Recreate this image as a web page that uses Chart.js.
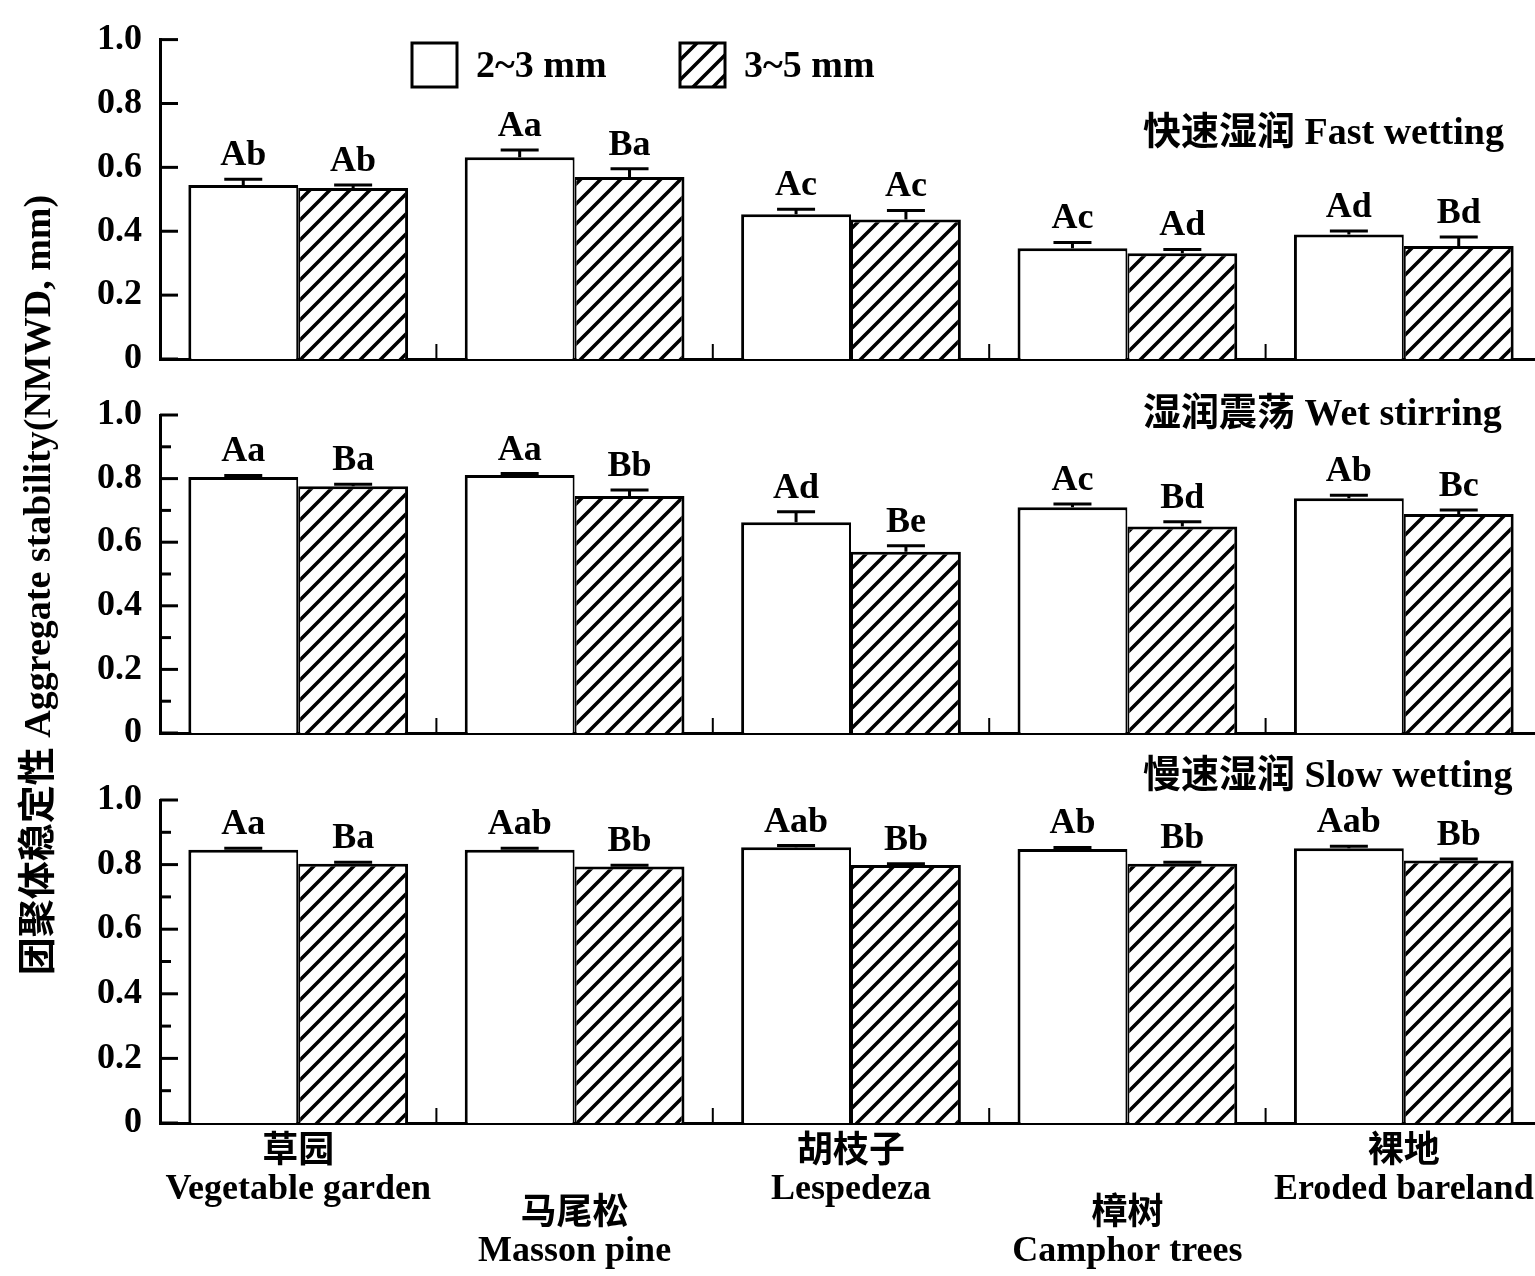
<!DOCTYPE html>
<html>
<head>
<meta charset="utf-8">
<script src="https://cdn.jsdelivr.net/npm/chart.js@4.4.1/dist/chart.umd.min.js"></script>
<style>
  body { margin: 0; background: #fff; overflow: hidden; }
  #wrap { position: relative; width: 1535px; height: 1276px; overflow: hidden; background: #fff; }
  #wrap canvas { position: absolute; left: 0; top: 0; }
</style>
</head>
<body>
<div id="wrap">
  <canvas id="fast" width="1542" height="1276"></canvas>
  <canvas id="stir" width="1542" height="1276"></canvas>
  <canvas id="slow" width="1542" height="1276"></canvas>
</div>
<script>
const categories = ['草园', '马尾松', '胡枝子', '樟树', '裸地']
const categoriesEn = ['Vegetable garden', 'Masson pine', 'Lespedeza', 'Camphor trees', 'Eroded bareland']
const sizeClasses = ['2~3 mm', '3~5 mm']
const panelTitles = ['快速湿润 Fast wetting', '湿润震荡 Wet stirring', '慢速湿润 Slow wetting']
const yTitle = '团聚体稳定性 Aggregate stability(NMWD, mm)'

// 快速湿润 Fast wetting
const fastSmall = [0.545, 0.632, 0.453, 0.347, 0.390]
const fastSmallErr = [0.018, 0.022, 0.016, 0.018, 0.011]
const fastSmallSig = ['Ab', 'Aa', 'Ac', 'Ac', 'Ad']
const fastLarge = [0.535, 0.570, 0.437, 0.331, 0.354]
const fastLargeErr = [0.010, 0.026, 0.028, 0.012, 0.028]
const fastLargeSig = ['Ab', 'Ba', 'Ac', 'Ad', 'Bd']

// 湿润震荡 Wet stirring
const stirSmall = [0.805, 0.811, 0.663, 0.710, 0.738]
const stirSmallErr = [0.005, 0.005, 0.033, 0.010, 0.010]
const stirSmallSig = ['Aa', 'Aa', 'Ad', 'Ac', 'Ab']
const stirLarge = [0.776, 0.745, 0.570, 0.649, 0.689]
const stirLargeErr = [0.006, 0.019, 0.019, 0.015, 0.012]
const stirLargeSig = ['Ba', 'Bb', 'Be', 'Bd', 'Bc']

// 慢速湿润 Slow wetting
const slowSmall = [0.846, 0.846, 0.854, 0.848, 0.851]
const slowSmallErr = [0.005, 0.005, 0.005, 0.005, 0.006]
const slowSmallSig = ['Aa', 'Aab', 'Aab', 'Ab', 'Aab']
const slowLarge = [0.803, 0.794, 0.799, 0.803, 0.813]
const slowLargeErr = [0.004, 0.004, 0.004, 0.004, 0.004]
const slowLargeSig = ['Ba', 'Bb', 'Bb', 'Bb', 'Bb']

const SERIF = '"Liberation Serif", "Noto Sans CJK SC", serif'
Chart.defaults.font.family = SERIF
Chart.defaults.font.weight = 'bold'
Chart.defaults.font.size = 36
Chart.defaults.color = '#000'

// diagonal hatch for the 3~5 mm bars
const makeHatch = () => {
    const pc = document.createElement('canvas')
    pc.width = 20
    pc.height = 20
    const g = pc.getContext('2d')
    g.fillStyle = '#fff'
    g.fillRect(0, 0, 20, 20)
    g.strokeStyle = '#000'
    g.lineWidth = 3.5
    g.beginPath()
    g.moveTo(-5, 25); g.lineTo(25, -5)
    g.moveTo(-5, 5); g.lineTo(5, -5)
    g.moveTo(15, 25); g.lineTo(25, 15)
    g.stroke()
    return g.createPattern(pc, 'repeat')
}
const hatch = makeHatch()

// error bars, letters, inner ticks, titles, legend, category labels
const marks = {
    id: 'marks',
    afterDatasetsDraw(chart, args, opts) {
        const ctx = chart.ctx
        const xs = chart.scales.x
        const ys = chart.scales.y
        const area = chart.chartArea
        ctx.save()
        ctx.strokeStyle = '#000'
        ctx.fillStyle = '#000'

        // y ticks pointing inwards
        ctx.lineWidth = 3
        ys.ticks.forEach((t, k) => {
            const py = ys.getPixelForValue(t.value)
            ctx.beginPath(); ctx.moveTo(area.left, py); ctx.lineTo(area.left + 18, py); ctx.stroke()
            if (opts.minor && k < ys.ticks.length - 1) {
                const pm = ys.getPixelForValue((t.value + ys.ticks[k + 1].value) / 2)
                ctx.beginPath(); ctx.moveTo(area.left, pm); ctx.lineTo(area.left + 11, pm); ctx.stroke()
            }
        })

        // small ticks between categories
        ctx.lineWidth = 2
        for (let i = 0; i < categories.length - 1; i++) {
            const px = (xs.getPixelForValue(i) + xs.getPixelForValue(i + 1)) / 2
            ctx.beginPath(); ctx.moveTo(px, area.bottom); ctx.lineTo(px, area.bottom - 15); ctx.stroke()
        }

        // error bars + significance letters
        ctx.font = 'bold 36px ' + SERIF
        ctx.textAlign = 'center'
        ctx.textBaseline = 'alphabetic'
        chart.data.datasets.forEach((ds, d) => {
            chart.getDatasetMeta(d).data.forEach((bar, i) => {
                const top = ys.getPixelForValue(ds.data[i] + ds.errors[i])
                ctx.lineWidth = 3
                ctx.beginPath()
                ctx.moveTo(bar.x, bar.y); ctx.lineTo(bar.x, top)
                ctx.moveTo(bar.x - 19, top); ctx.lineTo(bar.x + 19, top)
                ctx.stroke()
                ctx.fillText(ds.sig[i], bar.x, top - 14)
            })
        })

        // panel title
        ctx.font = 'bold 38px ' + SERIF
        ctx.textAlign = 'left'
        ctx.textBaseline = 'middle'
        ctx.fillText(opts.title, 1143, area.top + opts.titleDy)

        if (opts.legend) {
            const boxX = [412, 680]
            chart.data.datasets.forEach((ds, d) => {
                ctx.fillStyle = ds.backgroundColor
                ctx.fillRect(boxX[d], 43, 45, 44)
                ctx.lineWidth = 3
                ctx.strokeRect(boxX[d], 43, 45, 44)
                ctx.fillStyle = '#000'
                ctx.fillText(ds.label, boxX[d] + 64, 67)
            })
        }

        if (opts.yTitle) {
            ctx.save()
            ctx.translate(40, 585)
            ctx.rotate(-Math.PI / 2)
            ctx.font = 'bold 38px ' + SERIF
            ctx.textAlign = 'center'
            ctx.fillText(yTitle, 0, 0)
            ctx.restore()
        }

        if (opts.xLabels) {
            ctx.font = 'bold 36px ' + SERIF
            ctx.textAlign = 'center'
            categories.forEach((c, i) => {
                const px = xs.getPixelForValue(i)
                const cy = area.bottom + (i % 2 ? 92 : 30)
                ctx.fillText(c, px, cy)
                ctx.fillText(categoriesEn[i], px, cy + 37)
            })
        }
        ctx.restore()
    }
}

const makePanel = (id, small, smallErr, smallSig, large, largeErr, largeSig, top, bottom, opts) => {
    const data = {
        labels: categories,
        datasets: [{
            label: sizeClasses[0],
            data: small, errors: smallErr, sig: smallSig,
            backgroundColor: '#fff',
            borderColor: '#000',
            borderWidth: { top: 3, left: 3, right: 2 },
            categoryPercentage: 0.795,
            barPercentage: 1
        }, {
            label: sizeClasses[1],
            data: large, errors: largeErr, sig: largeSig,
            backgroundColor: hatch,
            borderColor: '#000',
            borderWidth: { top: 3, left: 2, right: 3 },
            categoryPercentage: 0.795,
            barPercentage: 1
        }]
    }
    const config = {
        type: 'bar',
        data: data,
        plugins: [marks],
        options: {
            responsive: false,
            animation: false,
            devicePixelRatio: 1,
            layout: { padding: { top: top, bottom: 1276 - bottom, left: 0, right: 0 } },
            plugins: {
                legend: { display: false },
                tooltip: { enabled: false },
                marks: opts
            },
            scales: {
                x: {
                    grid: { display: false, drawTicks: false },
                    ticks: { display: false },
                    border: { display: true, color: '#000', width: 3 },
                    afterFit: s => { s.height = 0 }
                },
                y: {
                    min: 0,
                    max: 1,
                    ticks: {
                        stepSize: 0.2,
                        padding: 18,
                        font: { size: 36, weight: 'bold' },
                        callback: v => v === 0 ? '0' : v.toFixed(1)
                    },
                    grid: { display: false, drawTicks: false },
                    border: { display: true, color: '#000', width: 3 },
                    afterFit: s => { s.width = 160 }
                }
            }
        }
    }
    return new Chart(document.getElementById(id), config)
}

makePanel('fast', fastSmall, fastSmallErr, fastSmallSig, fastLarge, fastLargeErr, fastLargeSig,
    35, 359, { title: panelTitles[0], titleDy: 95, minor: false, legend: true })
makePanel('stir', stirSmall, stirSmallErr, stirSmallSig, stirLarge, stirLargeErr, stirLargeSig,
    415, 733, { title: panelTitles[1], titleDy: 0, minor: true, yTitle: true })
makePanel('slow', slowSmall, slowSmallErr, slowSmallSig, slowLarge, slowLargeErr, slowLargeSig,
    800, 1123, { title: panelTitles[2], titleDy: -23, minor: true, xLabels: true })
</script>
</body>
</html>
